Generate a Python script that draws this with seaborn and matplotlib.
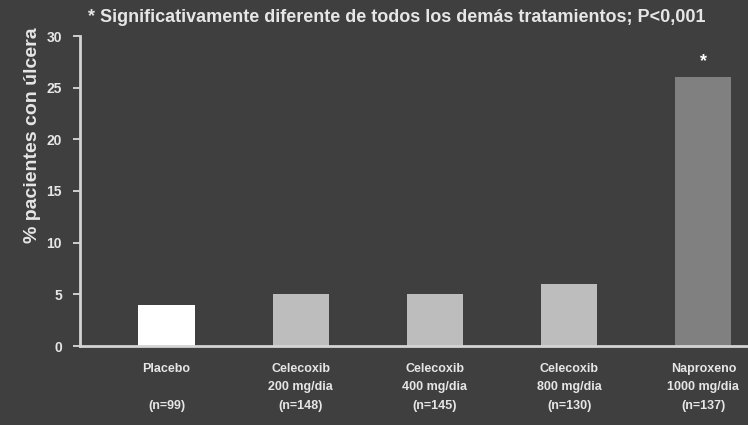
import matplotlib
matplotlib.use("Agg")
import matplotlib.pyplot as plt
import seaborn as sns
import pandas as pd

# Ulcer incidence by treatment group
tratamientos = ["Placebo", "Celecoxib 200", "Celecoxib 400", "Celecoxib 800", "Naproxeno 1000"]
etiquetas = [
    "Placebo\n\n(n=99)",
    "Celecoxib\n200 mg/dia\n(n=148)",
    "Celecoxib\n400 mg/dia\n(n=145)",
    "Celecoxib\n800 mg/dia\n(n=130)",
    "Naproxeno\n1000 mg/dia\n(n=137)",
]
porcentaje_ulcera = [4, 5, 5, 6, 26]
significativo = [False, False, False, False, True]
colores = ["#ffffff", "#bdbdbd", "#bdbdbd", "#bdbdbd", "#808080"]
yticks = [0, 5, 10, 15, 20, 25, 30]

bg = "#3f3f3f"
fg = "#e6e6e6"

sns.set_theme(style="dark")
plt.rcParams["font.family"] = ["Liberation Sans", "DejaVu Sans"]

df = pd.DataFrame({"tratamiento": tratamientos, "pct": porcentaje_ulcera})

fig = plt.figure(figsize=(7.48, 4.25), dpi=100, facecolor=bg)
ax = fig.add_axes([80 / 748, 1 - 346 / 425, 668 / 748, 310 / 425])
ax.set_facecolor(bg)

sns.barplot(data=df, x="tratamiento", y="pct", hue="tratamiento",
            palette=colores, width=0.42, legend=False, ax=ax,
            edgecolor="none", saturation=1)

ax.set_xlim(-0.645, 4.333)
ax.set_ylim(0, 30)
ax.set_yticks(yticks)
ax.set_yticklabels([str(t) for t in yticks], color=fg, fontsize=10, fontweight="bold")
ax.set_xticks(range(len(etiquetas)))
ax.set_xticklabels(etiquetas, color=fg, fontsize=9, fontweight="bold", linespacing=1.75)
ax.tick_params(axis="y", which="both", left=True, length=5, width=1.2, color=fg, pad=8)
ax.tick_params(axis="x", bottom=False, pad=6)
ax.set_xlabel("")
ax.set_ylabel("% pacientes con úlcera", color=fg, fontsize=14, fontweight="bold")
ax.yaxis.set_label_coords(-0.058, 0.68)
ax.grid(False)

for s in ["top", "right"]:
    ax.spines[s].set_visible(False)
for s in ["left", "bottom"]:
    ax.spines[s].set_visible(True)
    ax.spines[s].set_color("#d4d4d4")
    ax.spines[s].set_linewidth(2)

for i, (v, sig) in enumerate(zip(porcentaje_ulcera, significativo)):
    if sig:
        ax.text(i, v + 0.7, "*", ha="center", va="bottom", color="white",
                fontsize=13, fontweight="bold")

fig.text(88 / 748, 1 - 17 / 425,
         "* Significativamente diferente de todos los demás tratamientos; P<0,001",
         color=fg, fontsize=13, fontweight="bold", va="center", ha="left")

fig.savefig("out.png", dpi=100, facecolor=bg)
